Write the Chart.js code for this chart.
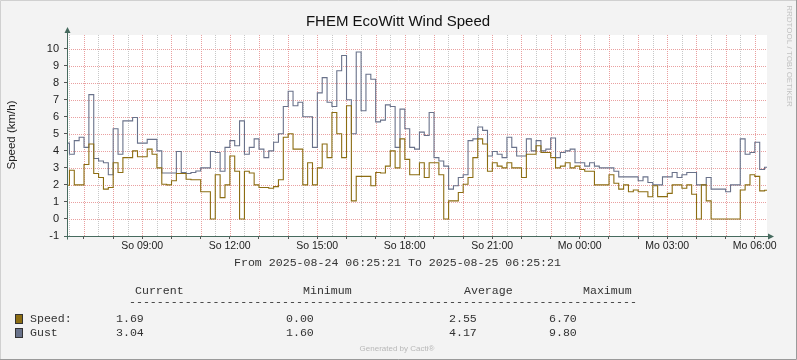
<!DOCTYPE html>
<html lang="de">
<head>
<meta charset="UTF-8">
<title>FHEM EcoWitt Wind Speed</title>
<script src="https://cdn.jsdelivr.net/npm/chart.js"></script>
<style>
  html, body { margin: 0; padding: 0; background: #f3f3f3; }
  canvas { display: block; }
</style>
</head>
<body>
<canvas id="wind" width="797" height="360"></canvas>
<script>
// 10-Minuten-Werte ab 2025-08-24 06:25:21
const fromText = '2025-08-24 06:25:21';
const toText = '2025-08-25 06:25:21';
const startHour = 6 + 25 / 60 + 21 / 3600;
const stepMinutes = 10;

const speed = [
  1.98, 2.86, 2.0, 2.0, 3.2, 4.4, 2.67, 2.43, 1.75, 1.85,
  3.3, 2.73, 3.6, 3.6, 4.0, 3.65, 3.65, 4.1, 3.8, 3.0,
  2.04, 2.0, 2.24, 2.67, 2.67, 2.33, 2.3, 2.3, 1.6, 1.6,
  0, 2.6, 1.25, 2.0, 3.7, 2.8, 0, 2.8, 2.7, 2.0,
  1.85, 1.85, 1.8, 1.9, 2.3, 4.8, 5.0, 4.1, 4.1, 2.0,
  3.3, 2.0, 3.0, 4.4, 3.6, 6.25, 5.0, 3.6, 6.65, 1.06,
  2.5, 2.5, 2.5, 1.95, 2.73, 2.7, 3.1, 4.0, 3.0, 4.7,
  3.5, 2.6, 2.6, 3.3, 2.43, 3.3, 3.3, 2.6, 0, 1.06,
  1.06, 1.55, 2.04, 2.43, 3.6, 4.7, 4.4, 2.8, 3.3, 3.1,
  3.0, 3.3, 3.0, 3.0, 2.43, 3.8, 3.8, 4.3, 3.9, 3.9,
  3.6, 3.0, 3.1, 3.3, 3.0, 3.1, 2.9, 2.8, 2.8, 2.0,
  2.0, 2.0, 2.6, 2.1, 1.75, 2.0, 1.6, 1.7, 1.6, 1.6,
  1.3, 1.95, 1.31, 1.31, 1.5, 2.0, 2.0, 1.8, 2.0, 1.45,
  0, 2.0, 1.06, 0, 0, 0, 0, 0, 0, 1.7,
  2.0, 2.6, 2.5, 1.65, 1.69
];

const gust = [
  4.45, 3.8, 4.6, 4.8, 4.2, 7.3, 3.55, 3.4, 3.3, 2.6,
  5.3, 3.8, 5.76, 5.76, 5.96, 4.45, 4.45, 4.67, 4.67, 4.0,
  2.7, 2.7, 2.7, 3.96, 2.73, 2.67, 2.73, 2.82, 3.0, 3.0,
  3.96, 3.9, 2.8, 4.2, 4.6, 4.3, 5.76, 3.8, 4.2, 4.7,
  4.1, 3.6, 4.0, 4.5, 5.0, 6.6, 7.5, 6.65, 6.85, 6.0,
  6.0, 4.2, 7.4, 8.3, 6.85, 6.6, 8.7, 9.6, 7.0, 5.0,
  9.8, 6.35, 8.5, 8.2, 5.7, 5.8, 6.7, 6.6, 4.2, 6.45,
  5.3, 4.2, 4.1, 5.1, 4.9, 6.25, 3.6, 3.4, 3.1, 1.75,
  1.95, 2.43, 2.6, 4.6, 4.7, 5.4, 5.2, 3.7, 3.96, 3.8,
  3.6, 4.8, 4.2, 3.7, 3.7, 4.7, 4.0, 4.6, 4.0, 4.1,
  4.75, 3.6, 3.9, 4.0, 4.1, 3.3, 3.3, 3.1, 3.3, 3.1,
  3.0, 3.0, 3.0, 2.8, 2.47, 2.47, 2.47, 2.47, 2.24, 2.47,
  2.14, 2.0, 2.0, 2.47, 2.47, 2.73, 2.43, 2.6, 2.73, 2.73,
  2.0, 2.0, 2.43, 1.75, 1.75, 1.75, 1.6, 2.0, 2.0, 4.7,
  3.8, 3.9, 4.5, 2.9, 3.04
];

const tickHours = [9, 12, 15, 18, 21, 24, 27, 30];
const tickLabels = ['So 09:00', 'So 12:00', 'So 15:00', 'So 18:00', 'So 21:00', 'Mo 00:00', 'Mo 03:00', 'Mo 06:00'];

const statHeads = ['Current', 'Minimum', 'Average', 'Maximum'];
const speedStats = ['1.69', '0.00', '2.55', '6.70'];
const gustStats = ['3.04', '1.60', '4.17', '9.80'];

const speedColor = '#8c6d12';
const gustColor = '#69728a';
const axisColor = '#466a5e';
const majorGrid = '#e9a0a0';
const minorGrid = '#c8c8c8';

const toPoints = arr => arr.map((v, i) => ({ x: i * stepMinutes, y: v }));
const isMajorX = t => t.hour % 1 === 0;
const isMajorY = t => Number.isInteger(t.value);

const rrdLook = {
  id: 'rrdLook',
  beforeDraw(chart) {
    const { ctx, chartArea: a, width, height } = chart;
    ctx.save();
    ctx.fillStyle = '#f3f3f3';
    ctx.fillRect(0, 0, width, height);
    ctx.fillStyle = '#ffffff';
    ctx.fillRect(a.left, a.top, a.right - a.left, a.bottom - a.top);
    ctx.lineWidth = 1;
    ctx.strokeStyle = '#d0d0d0';
    ctx.beginPath();
    ctx.moveTo(0.5, height - 1); ctx.lineTo(0.5, 0.5); ctx.lineTo(width - 1, 0.5);
    ctx.stroke();
    ctx.strokeStyle = '#9a9a9a';
    ctx.beginPath();
    ctx.moveTo(width - 0.5, 0); ctx.lineTo(width - 0.5, height - 0.5); ctx.lineTo(0, height - 0.5);
    ctx.stroke();
    ctx.restore();
  },
  beforeDatasetsDraw(chart) {
    // dotted rrd grid, minor grey then major red
    const { ctx, chartArea: a, scales } = chart;
    ctx.save();
    ctx.lineWidth = 1;
    ctx.setLineDash([1, 1]);
    [false, true].forEach(major => {
      ctx.strokeStyle = major ? majorGrid : minorGrid;
      ctx.beginPath();
      scales.x.ticks.forEach(t => {
        if (isMajorX(t) !== major) return;
        const px = Math.round(scales.x.getPixelForValue(t.value)) + 0.5;
        ctx.moveTo(px, a.top); ctx.lineTo(px, a.bottom);
      });
      scales.y.ticks.forEach(t => {
        if (isMajorY(t) !== major) return;
        const py = Math.round(scales.y.getPixelForValue(t.value)) + 0.5;
        ctx.moveTo(a.left, py); ctx.lineTo(a.right, py);
      });
      ctx.stroke();
    });
    ctx.restore();
  },
  afterDraw(chart) {
    const { ctx, chartArea: a } = chart;
    ctx.save();

    // axes with arrows
    const x0 = Math.round(a.left) + 0.5;
    const y0 = Math.round(a.bottom) + 0.5;
    ctx.strokeStyle = axisColor;
    ctx.fillStyle = axisColor;
    ctx.lineWidth = 1;
    ctx.beginPath();
    ctx.moveTo(x0, y0 + 3); ctx.lineTo(x0, a.top - 2);
    ctx.moveTo(x0 - 3, y0); ctx.lineTo(a.right + 1, y0);
    ctx.stroke();
    ctx.beginPath();
    ctx.moveTo(x0 - 3, a.top - 2); ctx.lineTo(x0 + 3, a.top - 2); ctx.lineTo(x0, a.top - 8);
    ctx.closePath(); ctx.fill();
    ctx.beginPath();
    ctx.moveTo(a.right + 1, y0 - 3); ctx.lineTo(a.right + 1, y0 + 3); ctx.lineTo(a.right + 7, y0);
    ctx.closePath(); ctx.fill();

    // title
    ctx.fillStyle = '#111';
    ctx.font = "15px 'Liberation Sans', Arial, sans-serif";
    ctx.textAlign = 'center';
    ctx.textBaseline = 'middle';
    ctx.fillText('FHEM EcoWitt Wind Speed', 398, 22);

    // y axis title
    ctx.save();
    ctx.translate(12, 135);
    ctx.rotate(-Math.PI / 2);
    ctx.font = "11.5px 'Liberation Sans', Arial, sans-serif";
    ctx.fillStyle = '#222';
    ctx.fillText('Speed (km/h)', 0, 0);
    ctx.restore();

    // watermark
    ctx.save();
    ctx.translate(789, 56);
    ctx.rotate(Math.PI / 2);
    ctx.font = "8px 'Liberation Sans', Arial, sans-serif";
    ctx.fillStyle = '#c2c2c2';
    ctx.fillText('RRDTOOL / TOBI OETIKER', 0, 0);
    ctx.restore();

    // legend block
    ctx.font = "11.6px 'Liberation Mono', 'DejaVu Sans Mono', monospace";
    ctx.fillStyle = '#333';
    ctx.textAlign = 'left';
    ctx.fillText('From ' + fromText + ' To ' + toText, 234, 263);
    const headX = [135, 303, 464, 583];
    statHeads.forEach((h, i) => ctx.fillText(h, headX[i], 291));
    ctx.fillText('-'.repeat(73), 129, 302);
    const valX = [116, 286, 449, 549];
    const rows = [
      { name: 'Speed:', color: speedColor, stats: speedStats, y: 319 },
      { name: 'Gust', color: gustColor, stats: gustStats, y: 333 }
    ];
    rows.forEach(r => {
      ctx.fillStyle = r.color;
      ctx.fillRect(15, r.y - 5, 8, 10);
      ctx.strokeStyle = '#333';
      ctx.strokeRect(15.5, r.y - 4.5, 7, 9);
      ctx.fillStyle = '#333';
      ctx.fillText(r.name, 30, r.y);
      r.stats.forEach((s, i) => ctx.fillText(s, valX[i], r.y));
    });

    ctx.font = "8px 'Liberation Sans', Arial, sans-serif";
    ctx.fillStyle = '#b8b8b8';
    ctx.textAlign = 'center';
    ctx.fillText('Generated by Cacti®', 397, 349);
    ctx.restore();
  }
};

Chart.defaults.font.family = "'Liberation Sans', Arial, sans-serif";
Chart.defaults.color = '#222';

new Chart(document.getElementById('wind').getContext('2d'), {
  type: 'line',
  data: {
    datasets: [
      {
        label: 'Speed',
        data: toPoints(speed),
        borderColor: speedColor,
        borderWidth: 1.1,
        pointRadius: 0,
        stepped: 'middle',
        fill: false
      },
      {
        label: 'Gust',
        data: toPoints(gust),
        borderColor: gustColor,
        borderWidth: 1.1,
        pointRadius: 0,
        stepped: 'middle',
        fill: false
      }
    ]
  },
  options: {
    responsive: false,
    animation: false,
    devicePixelRatio: 1,
    layout: { padding: { left: 0, right: 30, top: 35, bottom: 0 } },
    plugins: { legend: { display: false }, title: { display: false }, tooltip: { enabled: false } },
    scales: {
      x: {
        type: 'linear',
        min: 0,
        max: 1440,
        afterBuildTicks: s => {
          const t = [];
          for (let h = Math.ceil(startHour * 2) / 2; h <= startHour + 24; h += 0.5) {
            t.push({ value: (h - startHour) * 60, hour: h });
          }
          s.ticks = t;
        },
        afterFit: s => { s.height = 124; },
        ticks: {
          autoSkip: false,
          maxRotation: 0,
          padding: 1,
          font: { size: 10.5 },
          color: '#222',
          callback: (v, i, ticks) => {
            const j = tickHours.indexOf(ticks[i].hour);
            return j >= 0 ? tickLabels[j] : '';
          }
        },
        grid: {
          drawOnChartArea: false,
          tickColor: c => (c.tick && isMajorX(c.tick) ? '#555' : 'rgba(0,0,0,0)'),
          tickLength: 3
        },
        border: { display: false }
      },
      y: {
        min: -1,
        max: 10.8,
        afterBuildTicks: s => {
          const t = [];
          for (let v = -1; v <= 10.5; v += 0.5) t.push({ value: v });
          s.ticks = t;
        },
        afterFit: s => { s.width = 67; },
        ticks: {
          padding: 5,
          font: { size: 11 },
          color: '#222',
          callback: v => (Number.isInteger(v) ? String(v) : '')
        },
        grid: {
          drawOnChartArea: false,
          tickColor: c => (c.tick && isMajorY(c.tick) ? '#555' : 'rgba(0,0,0,0)'),
          tickLength: 3
        },
        border: { display: false }
      }
    }
  },
  plugins: [rrdLook]
});
</script>
</body>
</html>
